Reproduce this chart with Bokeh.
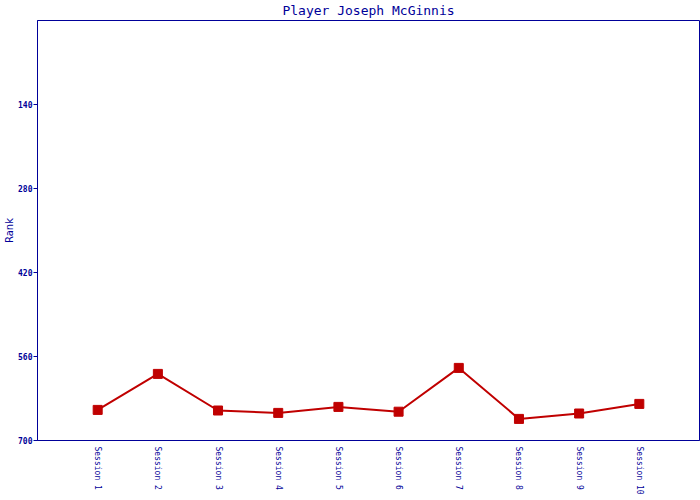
from bokeh.plotting import figure
from bokeh.models import Range1d, FixedTicker
from bokeh.embed import file_html
from bokeh.resources import INLINE

sessions = ["Session 1", "Session 2", "Session 3", "Session 4", "Session 5",
            "Session 6", "Session 7", "Session 8", "Session 9", "Session 10"]
ranks = [649, 589, 650, 654, 644, 652, 579, 664, 655, 639]
y_ticks = [140, 280, 420, 560, 700]
title_text = "Player Joseph McGinnis"
y_label = "Rank"

NAVY = "#000099"
RED = "#C00000"
MONO = "DejaVu Sans Mono"

xs = list(range(1, len(sessions) + 1))

p = figure(width=700, height=497, output_backend="svg", toolbar_location=None,
           x_range=Range1d(0, len(sessions) + 1), y_range=Range1d(700, 0),
           min_border_left=37, min_border_right=1, min_border_top=20, min_border_bottom=57,
           title=title_text)

p.title.align = "center"
p.title.vertical_align = "top"
p.title.text_font = MONO
p.title.text_font_size = "13px"
p.title.text_font_style = "normal"
p.title.text_color = NAVY
p.title.text_line_height = 0.8
p.title.offset = 0
p.title.standoff = 2

p.outline_line_color = NAVY
p.outline_line_width = 1
p.outline_line_alpha = 1
p.xgrid.visible = False
p.ygrid.visible = False
p.background_fill_color = "white"
p.border_fill_color = "white"

# x axis
xa = p.xaxis[0]
xa.ticker = FixedTicker(ticks=xs)
xa.major_label_overrides = {x: s for x, s in zip(xs, sessions)}
xa.major_label_orientation = "vertical"
xa.major_tick_line_color = None
xa.major_tick_out = 0
xa.major_tick_in = 0
xa.minor_tick_line_color = None
xa.major_label_standoff = 6
xa.major_label_text_font = MONO
xa.major_label_text_font_size = "8px"
xa.major_label_text_color = NAVY
xa.axis_line_color = NAVY

# y axis
ya = p.yaxis[0]
ya.ticker = FixedTicker(ticks=y_ticks)
ya.major_tick_in = 0
ya.major_tick_out = 4
ya.major_tick_line_color = NAVY
ya.minor_tick_line_color = None
ya.major_label_standoff = 1
ya.major_label_text_font = MONO
ya.major_label_text_font_size = "8px"
ya.major_label_text_font_style = "bold"
ya.major_label_text_color = NAVY
ya.axis_line_color = NAVY
ya.axis_label = y_label
ya.axis_label_text_font = "DejaVu Sans"
ya.axis_label_text_font_size = "10px"
ya.axis_label_text_font_style = "normal"
ya.axis_label_text_color = NAVY
ya.axis_label_standoff = 0

p.line(xs, ranks, line_color=RED, line_width=2)
p.scatter(xs, ranks, marker="square", size=9, fill_color=RED, line_color=RED)

open("out.html", "w").write(file_html(p, INLINE))
